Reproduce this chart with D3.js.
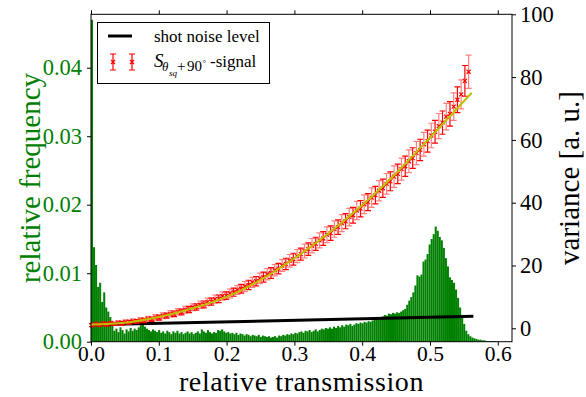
<!DOCTYPE html>
<html><head><meta charset="utf-8">
<script src="https://cdn.jsdelivr.net/npm/d3@7"></script>
<style>
body{margin:0;background:#fff}
svg{display:block}
text{font-family:"Liberation Serif","Times New Roman",Times,serif}
</style>
</head><body>
<svg id="c" width="586" height="397"></svg>
<script>
// ---------------- data ----------------
const xTicks = [0.0, 0.1, 0.2, 0.3, 0.4, 0.5, 0.6];
const freqTicks = [0.00, 0.01, 0.02, 0.03, 0.04];
const varTicks = [0, 20, 40, 60, 80, 100];

// histogram of relative transmission (bins start at 0, width 0.003)
const histStart = 0.0;
const histBinWidth = 0.003;
const histFreq = [
0.0470,0.0138,0.0112,0.0080,0.0086,0.0058,0.0072,0.0050,0.0044,0.0036,
0.0024,0.0016,0.0019,0.0014,0.0021,0.0017,0.0012,0.0018,0.0015,0.0020,
0.0016,0.0019,0.0017,0.0021,0.0024,0.0025,0.0022,0.0019,0.0017,0.0015,
0.0018,0.0016,0.0014,0.0017,0.0013,0.0015,0.0012,0.0016,0.0014,0.0011,
0.0015,0.0013,0.0016,0.0012,0.0014,0.0011,0.0013,0.0015,0.0012,0.0014,
0.0011,0.0013,0.0015,0.0012,0.0018,0.0015,0.0013,0.0017,0.0014,0.0012,
0.0014,0.0013,0.0017,0.0016,0.0018,0.0015,0.0013,0.0014,0.0012,0.0013,
0.0011,0.0013,0.0010,0.0012,0.0011,0.0009,0.0011,0.0010,0.0008,0.0010,
0.0009,0.0008,0.0010,0.0007,0.0009,0.0008,0.0007,0.0008,0.0006,0.0007,
0.0008,0.0006,0.0009,0.0008,0.0010,0.0009,0.0011,0.0010,0.0012,0.0011,
0.0013,0.0012,0.0014,0.0015,0.0013,0.0016,0.0015,0.0017,0.0014,0.0016,
0.0018,0.0015,0.0017,0.0019,0.0018,0.0020,0.0019,0.0021,0.0019,0.0022,
0.0020,0.0023,0.0021,0.0024,0.0022,0.0025,0.0024,0.0026,0.0023,0.0025,
0.0027,0.0026,0.0028,0.0027,0.0029,0.0028,0.0030,0.0029,0.0031,0.0033,
0.0034,0.0036,0.0035,0.0037,0.0039,0.0038,0.0041,0.0040,0.0042,0.0041,
0.0043,0.0042,0.0044,0.0046,0.0048,0.0054,0.0060,0.0065,0.0072,0.0082,
0.0097,0.0095,0.0098,0.0117,0.0120,0.0128,0.0142,0.0150,0.0157,0.0168,
0.0162,0.0153,0.0148,0.0137,0.0122,0.0110,0.0094,0.0090,0.0086,0.0076,
0.0064,0.0050,0.0038,0.0026,0.0016,0.0011,0.0008,0.0006,0.0005,0.0004,
0.0003,0.0003,0.0002,0.0002,0.0001,0.0001,0.0001,0.0001,0.0001,0.0000
];

// S_{theta_sq+90deg} signal: position, variance, error
const sigX = [
0.0015,0.0070,0.0125,0.0180,0.0235,0.0290,0.0345,0.0400,0.0455,0.0510,
0.0565,0.0620,0.0675,0.0730,0.0785,0.0840,0.0895,0.0950,0.1005,0.1060,
0.1115,0.1170,0.1225,0.1280,0.1335,0.1390,0.1445,0.1500,0.1555,0.1610,
0.1665,0.1720,0.1775,0.1830,0.1885,0.1940,0.1995,0.2050,0.2105,0.2160,
0.2215,0.2270,0.2325,0.2380,0.2435,0.2490,0.2545,0.2600,0.2655,0.2710,
0.2765,0.2820,0.2875,0.2930,0.2985,0.3040,0.3095,0.3150,0.3205,0.3260,
0.3315,0.3370,0.3425,0.3480,0.3535,0.3590,0.3645,0.3700,0.3755,0.3810,
0.3865,0.3920,0.3975,0.4030,0.4085,0.4140,0.4195,0.4250,0.4305,0.4360,
0.4415,0.4470,0.4525,0.4580,0.4635,0.4690,0.4745,0.4800,0.4855,0.4910,
0.4965,0.5020,0.5075,0.5130,0.5185,0.5240,0.5295,0.5350,0.5405,0.5460,
0.5515,0.5570
];
const sigV = [
1.0,1.4,1.1,1.5,1.2,1.6,1.4,1.8,1.6,2.0,
1.9,2.3,2.2,2.6,2.5,3.0,2.9,3.5,3.4,4.0,
4.0,4.6,4.6,5.3,5.2,5.9,6.0,6.7,6.8,7.5,
7.6,8.4,8.5,9.3,9.4,10.3,10.4,11.1,11.5,12.2,
12.6,13.3,13.8,14.6,15.0,15.9,16.3,17.2,17.6,18.5,
19.0,20.0,20.5,21.5,22.0,23.0,23.6,24.6,25.2,26.3,
26.9,28.0,28.6,29.8,30.3,31.6,32.2,33.5,34.1,35.4,
36.0,37.5,38.1,39.5,40.2,41.6,42.4,43.8,44.6,46.0,
46.8,48.3,49.2,50.7,51.6,53.2,54.2,55.8,56.8,58.6,
59.6,61.4,62.6,64.4,65.5,67.4,68.3,70.6,72.8,74.5,
78.8,81.7
];
const sigErr = [
0.5,0.6,0.5,0.6,0.5,0.6,0.5,0.6,0.6,0.7,
0.6,0.7,0.6,0.8,0.7,0.8,0.7,0.9,0.8,0.9,
0.8,1.0,0.9,1.0,0.9,1.1,1.0,1.1,1.0,1.2,
1.1,1.2,1.1,1.3,1.2,1.3,1.2,1.4,1.3,1.4,
1.4,1.6,1.5,1.6,1.5,1.7,1.6,1.8,1.7,1.8,
1.7,1.9,1.8,2.0,1.9,2.1,1.9,2.2,2.0,2.3,
2.1,2.4,2.2,2.5,2.3,2.6,2.3,2.7,2.4,2.8,
2.5,2.9,2.6,3.0,2.7,3.1,2.8,3.2,2.9,3.3,
3.0,3.4,3.1,3.5,3.2,3.6,3.3,3.7,3.4,3.8,
3.5,3.9,3.6,4.0,3.7,4.2,3.9,4.4,4.1,4.6,
4.9,5.3
];

// fitted curve
const fitX = [0.0, 0.05, 0.10, 0.15, 0.20, 0.25, 0.30, 0.35, 0.40, 0.45, 0.50, 0.5615];
const fitV = [1.2, 1.8, 3.6, 6.4, 10.0, 15.4, 22.3, 30.2, 39.2, 49.4, 60.7, 75.0];

// shot noise level
const shotX = [0.0, 0.564];
const shotV = [1.1, 3.8];

// ---------------- drawing ----------------
const GREEN = "#008000";
const FONT = '"Liberation Serif","Times New Roman",Times,serif';
const svg = d3.select("#c");
const L = 91, R = 512, T = 14.3, B = 341.7;

const x = d3.scaleLinear().domain([0, 0.621]).range([L, R]);
const yF = d3.scaleLinear().domain([0, 0.0478]).range([B, T]);
const yV = d3.scaleLinear().domain([-4.27, 100]).range([B, T]);

// histogram
svg.append("g").selectAll("rect").data(histFreq).join("rect")
  .attr("x", (d, i) => x(histStart + i * histBinWidth))
  .attr("width", x(histBinWidth) - x(0))
  .attr("y", d => yF(d))
  .attr("height", d => yF(0) - yF(d))
  .attr("fill", GREEN);

// shot noise line
svg.append("line")
  .attr("x1", x(shotX[0])).attr("y1", yV(shotV[0]))
  .attr("x2", x(shotX[1])).attr("y2", yV(shotV[1]))
  .attr("stroke", "#000").attr("stroke-width", 3);

// error bars
const sig = sigX.map((d, i) => ({x: d, v: sigV[i], e: sigErr[i], i}));
const eb = svg.append("g").selectAll("g").data(sig).join("g")
  .attr("stroke", d => d.i % 2 ? "rgba(255,0,0,0.5)" : "#ff0000")
  .attr("stroke-width", 1.2).attr("fill", "none");
eb.append("path").attr("d", d => {
  const cx = x(d.x), y1 = yV(d.v - d.e), y2 = yV(d.v + d.e);
  return `M${cx},${y1}V${y2}M${cx-3},${y1}H${cx+3}M${cx-3},${y2}H${cx+3}`;
});
eb.append("path").attr("stroke", "#ff0000").attr("d", d => {
  const cx = x(d.x), cy = yV(d.v);
  return `M${cx-2},${cy-2}L${cx+2},${cy+2}M${cx-2},${cy+2}L${cx+2},${cy-2}`;
});

// fit line
const fit = fitX.map((d, i) => [d, fitV[i]]);
svg.append("path").datum(fit)
  .attr("d", d3.line().x(d => x(d[0])).y(d => yV(d[1])).curve(d3.curveMonotoneX))
  .attr("fill", "none").attr("stroke", "#bfbf00").attr("stroke-width", 2);

// frame
svg.append("rect").attr("x", L).attr("y", T).attr("width", R - L).attr("height", B - T)
  .attr("fill", "none").attr("stroke", "#000").attr("stroke-width", 1);

// axes
function style(g, color, size) {
  g.attr("font-family", FONT);
  g.select(".domain").remove();
  g.selectAll("line").attr("stroke", "#000");
  g.selectAll("text").attr("fill", color).style("font-size", size).style("font-family", FONT);
}
svg.append("g").attr("transform", `translate(0,${B})`)
  .call(d3.axisBottom(x).tickValues(xTicks).tickFormat(d3.format(".1f")).tickSize(4).tickPadding(0))
  .call(g => style(g, "#000", "21.5px"));
svg.append("g").attr("transform", `translate(0,${T})`)
  .call(d3.axisTop(x).tickValues(xTicks).tickFormat("").tickSize(4))
  .call(g => style(g, "#000", "21.5px"));
svg.append("g").attr("transform", `translate(${L},0)`)
  .call(d3.axisLeft(yF).tickValues(freqTicks).tickFormat(d3.format(".2f")).tickSize(4).tickPadding(5))
  .call(g => style(g, GREEN, "22.5px"));
svg.append("g").attr("transform", `translate(${R},0)`)
  .call(d3.axisRight(yV).tickValues(varTicks).tickFormat(d3.format("d")).tickSize(4).tickPadding(4))
  .call(g => style(g, "#000", "22.5px"));

// axis titles
svg.append("text").attr("transform", `translate(40,${(T + B) / 2}) rotate(-90)`)
  .attr("text-anchor", "middle").attr("fill", GREEN).style("font-size", "29px")
  .text("relative frequency");
svg.append("text").attr("transform", `translate(579,${(T + B) / 2}) rotate(-90)`)
  .attr("text-anchor", "middle").attr("fill", "#000").style("font-size", "29px")
  .text("variance [a. u.]");
svg.append("text").attr("x", (L + R) / 2).attr("y", 390.8)
  .attr("text-anchor", "middle").attr("fill", "#000").style("font-size", "28px")
  .style("letter-spacing", "0.6px")
  .text("relative transmission");

// legend
const lg = svg.append("g");
lg.append("rect").attr("x", 97.5).attr("y", 22.5).attr("width", 172).attr("height", 61)
  .attr("fill", "#fff").attr("stroke", "#000").attr("stroke-width", 1);
lg.append("line").attr("x1", 108).attr("x2", 132).attr("y1", 36).attr("y2", 36)
  .attr("stroke", "#000").attr("stroke-width", 3);
lg.append("text").attr("x", 154).attr("y", 42).style("font-size", "17px").text("shot noise level");
[113, 132].forEach(cx => {
  lg.append("path").attr("stroke", "#ff0000").attr("stroke-width", 1.2).attr("fill", "none")
    .attr("d", `M${cx},54V70M${cx-3},54H${cx+3}M${cx-3},70H${cx+3}M${cx-2},60L${cx+2},64M${cx-2},64L${cx+2},60`);
});
lg.append("text").attr("x", 154).attr("y", 67).style("font-size", "19px").style("font-style", "italic").text("S");
lg.append("text").attr("x", 162).attr("y", 71).style("font-size", "13px").style("font-style", "italic").text("θ");
lg.append("text").attr("x", 169).attr("y", 76).style("font-size", "9px").style("font-style", "italic").text("sq");
lg.append("text").attr("x", 177).attr("y", 71).style("font-size", "15px").text("+");
lg.append("text").attr("x", 187).attr("y", 71).style("font-size", "15px").text("90");
lg.append("text").attr("x", 202.5).attr("y", 66).style("font-size", "9px").text("°");
lg.append("text").attr("x", 210).attr("y", 67).style("font-size", "17px").text("-signal");
</script>
</body></html>
